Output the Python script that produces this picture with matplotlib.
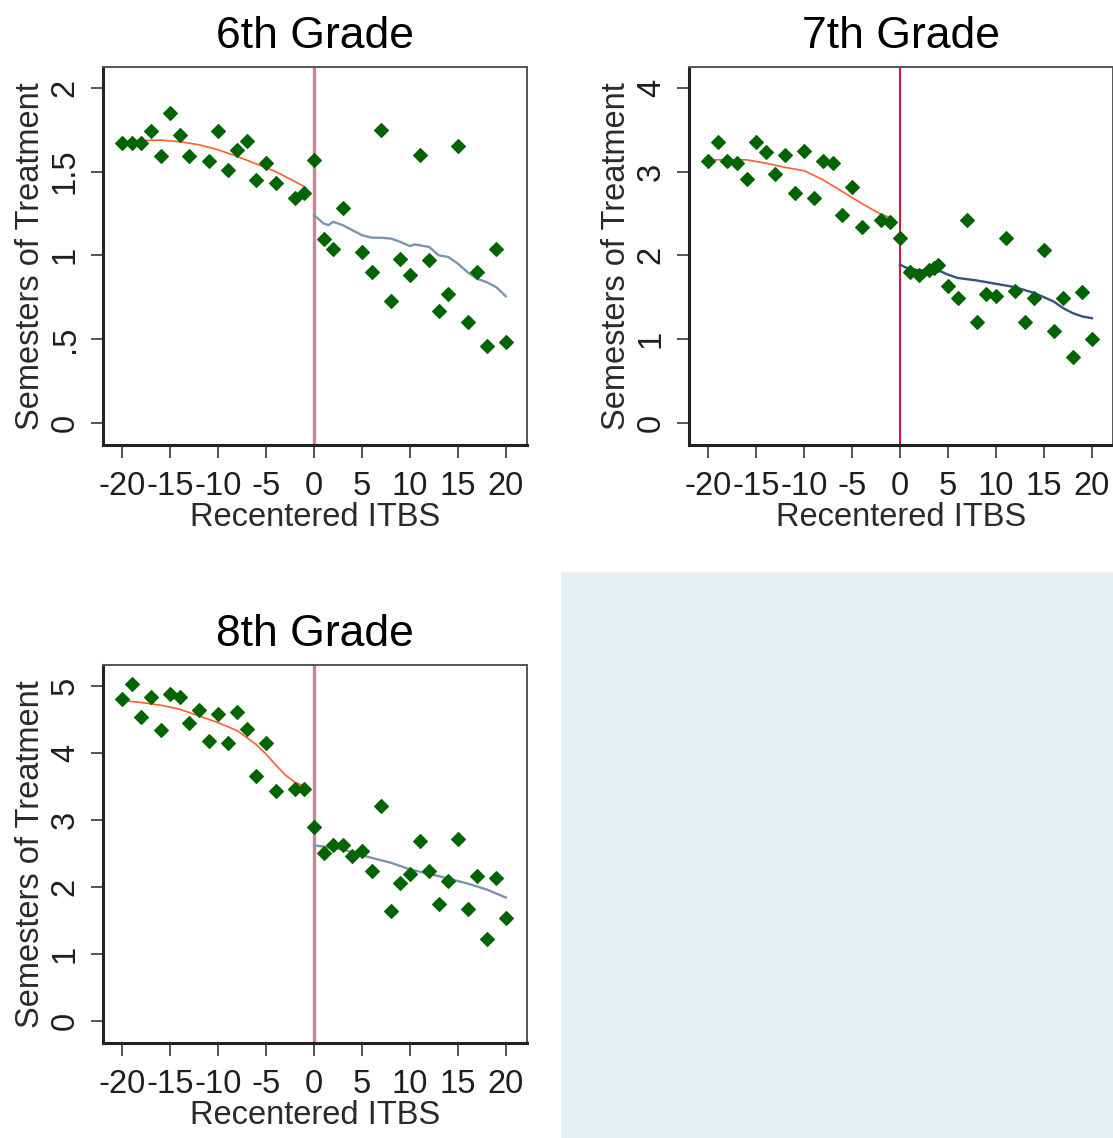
import numpy as np
import matplotlib
matplotlib.use("Agg")
from matplotlib import pyplot as plt
from matplotlib.patches import Rectangle

plt.rcParams['font.family'] = ['Liberation Sans', 'DejaVu Sans']

# binned means, 6th grade
x6 = [-20, -19, -18, -17, -16, -15, -14, -13, -11, -10, -9, -8, -7, -6, -5, -4, -2, -1,
      0, 1, 2, 3, 5, 6, 7, 8, 9, 10, 11, 12, 13, 14, 15, 16, 17, 18, 19, 20]
y6 = [1.67, 1.67, 1.67, 1.74, 1.59, 1.85, 1.72, 1.59, 1.56, 1.74, 1.51, 1.63, 1.68, 1.45, 1.55, 1.43, 1.34, 1.37,
      1.57, 1.10, 1.04, 1.28, 1.02, 0.90, 1.75, 0.73, 0.98, 0.88, 1.60, 0.97, 0.67, 0.77, 1.65, 0.60, 0.90, 0.46, 1.04, 0.48]
# smoothed fits, 6th grade
lx6 = [-20, -18, -16, -14, -12, -10, -8, -6, -4, -2, -1]
ly6 = [1.67, 1.685, 1.688, 1.678, 1.66, 1.63, 1.59, 1.545, 1.50, 1.44, 1.41]
rx6 = [0, 1, 1.5, 2, 3, 4, 5, 6, 7, 8, 9, 10, 10.5, 11, 12, 13, 14, 15, 16, 17, 18, 19, 20]
ry6 = [1.24, 1.19, 1.18, 1.20, 1.18, 1.15, 1.12, 1.105, 1.105, 1.10, 1.08, 1.055, 1.065, 1.06, 1.05, 1.00,
       0.99, 0.95, 0.90, 0.86, 0.84, 0.81, 0.755]

# 7th grade
x7 = [-20, -19, -18, -17, -16, -15, -14, -13, -12, -11, -10, -9, -8, -7, -6, -5, -4, -2, -1,
      0, 1, 2, 3, 3.5, 4, 5, 6, 7, 8, 9, 10, 11, 12, 13, 14, 15, 16, 17, 18, 19, 20]
y7 = [3.12, 3.35, 3.12, 3.10, 2.91, 3.35, 3.23, 2.97, 3.20, 2.74, 3.25, 2.68, 3.12, 3.10, 2.48, 2.81, 2.34, 2.42, 2.40,
      2.21, 1.80, 1.77, 1.82, 1.85, 1.89, 1.63, 1.49, 2.42, 1.21, 1.54, 1.52, 2.21, 1.57, 1.21, 1.49, 2.06, 1.10,
      1.49, 0.79, 1.56, 1.00]
lx7 = [-20, -18, -16, -14, -12, -10, -8, -6, -4, -2, -1]
ly7 = [3.14, 3.14, 3.14, 3.10, 3.05, 3.01, 2.90, 2.76, 2.62, 2.49, 2.45]
rx7 = [0, 0.5, 1, 2, 3, 4, 5, 6, 8, 10, 12, 14, 16, 17, 18, 19, 20]
ry7 = [1.89, 1.86, 1.84, 1.82, 1.82, 1.82, 1.77, 1.73, 1.70, 1.66, 1.62, 1.55, 1.45, 1.37, 1.31, 1.27, 1.25]

# 8th grade
x8 = [-20, -19, -18, -17, -16, -15, -14, -13, -12, -11, -10, -9, -8, -7, -6, -5, -4, -2, -1,
      0, 1, 2, 3, 4, 5, 6, 7, 8, 9, 10, 11, 12, 13, 14, 15, 16, 17, 18, 19, 20]
y8 = [4.81, 5.02, 4.53, 4.83, 4.34, 4.88, 4.84, 4.45, 4.64, 4.18, 4.58, 4.15, 4.61, 4.35, 3.66, 4.15, 3.43, 3.46, 3.46,
      2.90, 2.51, 2.63, 2.62, 2.46, 2.53, 2.23, 3.20, 1.64, 2.06, 2.19, 2.68, 2.23, 1.75, 2.09, 2.72, 1.67, 2.16,
      1.22, 2.13, 1.53]
lx8 = [-20, -18, -16, -14, -12, -10, -8, -6, -5, -4, -3, -2, -1]
ly8 = [4.78, 4.75, 4.71, 4.65, 4.55, 4.45, 4.33, 4.12, 3.98, 3.82, 3.67, 3.56, 3.50]
rx8 = [0, 3, 5, 8, 10, 13, 16, 18, 20]
ry8 = [2.62, 2.56, 2.47, 2.36, 2.26, 2.16, 2.05, 1.96, 1.84]

titles = ['6th Grade', '7th Grade', '8th Grade']
yticks = [[0, 0.5, 1, 1.5, 2], [0, 1, 2, 3, 4], [0, 1, 2, 3, 4, 5]]
yticklabels = [['0', '.5', '1', '1.5', '2'], ['0', '1', '2', '3', '4'], ['0', '1', '2', '3', '4', '5']]
xticks = [-20, -15, -10, -5, 0, 5, 10, 15, 20]

fig = plt.figure(figsize=(11.13, 11.38), dpi=100)

# empty slot of the combined graph
fig.patches.append(Rectangle((561 / 1113, 0), 1 - 561 / 1113, 1 - 572 / 1138,
                             transform=fig.transFigure, color='#e8eff1', zorder=0))

W, H = 1113, 1138
boxes = [(103, 67), (689, 67), (103, 665)]
data = [(x6, y6, lx6, ly6, rx6, ry6), (x7, y7, lx7, ly7, rx7, ry7), (x8, y8, lx8, ly8, rx8, ry8)]
vcol = ['#d97c96', '#d0164a', '#d97c96']
vlw = [2.4, 1.5, 2.4]
bcol = ['#7d93ae', '#34527c', '#7d93ae']

for i in range(3):
    left, top = boxes[i]
    ax = fig.add_axes([left / W, 1 - (top + 378) / H, 424 / W, 378 / H])
    x, y, lx, ly, rx, ry = data[i]
    ymax = yticks[i][-1]

    ax.axvline(0, color=vcol[i], lw=vlw[i], zorder=1)
    ax.plot(lx, ly, color='#ff5f2e', lw=1.2, zorder=2)
    ax.plot(rx, ry, color=bcol[i], lw=1.7, zorder=2)
    ax.plot(x, y, 'D', color='#006400', ms=7.2, mew=0.8, zorder=3)

    ax.set_xlim(-22.0, 22.2)
    ax.set_ylim(-0.066 * ymax, 1.062 * ymax)
    ax.set_xticks(xticks)
    ax.set_xticklabels([str(t) for t in xticks])
    ax.set_yticks(yticks[i])
    ax.set_yticklabels(yticklabels[i], rotation=90, va='center')

    ax.tick_params(axis='both', length=9, width=1.4, color='#555555', labelsize=23.5,
                   labelcolor='#1e1e1e', direction='out')
    ax.tick_params(axis='x', pad=10)
    ax.tick_params(axis='y', pad=7)
    for s in ['top', 'right']:
        ax.spines[s].set_color('#555555')
        ax.spines[s].set_linewidth(1.4)
    for s in ['left', 'bottom']:
        ax.spines[s].set_color('#222222')
        ax.spines[s].set_linewidth(2.2)

    ax.set_title(titles[i], fontsize=32, pad=14, color='black')
    ax.set_xlabel('Recentered ITBS', fontsize=23.5, color='#2a2a2a', labelpad=0)
    ax.set_ylabel('Semesters of Treatment', fontsize=23.5, color='#2a2a2a', labelpad=3)

fig.savefig('out.png', dpi=100)
